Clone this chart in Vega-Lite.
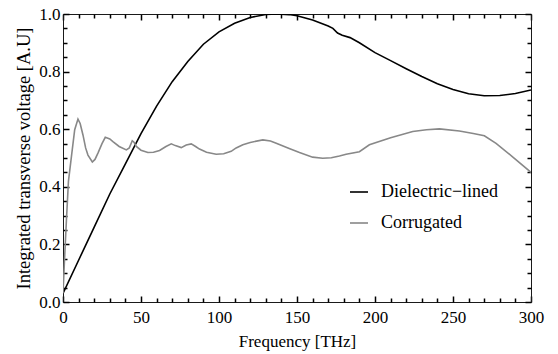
{
  "$schema": "https://vega.github.io/schema/vega-lite/v6.json",
  "autosize": {"type": "none"},
  "width": 468,
  "height": 288,
  "padding": {"left": 63, "top": 14, "right": 27, "bottom": 52},
  "background": "white",
  "config": {
    "view": {"stroke": null},
    "font": "Liberation Serif",
    "axis": {
      "labelFont": "Liberation Serif",
      "titleFont": "Liberation Serif",
      "labelFontSize": 17,
      "titleFontSize": 17,
      "titleFontWeight": "normal",
      "labelColor": "#000",
      "titleColor": "#000",
      "domainColor": "#1a1a1a",
      "tickColor": "#000",
      "grid": false
    },
    "legend": {
      "labelFont": "Liberation Serif",
      "labelFontSize": 18,
      "labelColor": "#000"
    }
  },
  "data": {
    "values": [
      {"series": "Dielectric−lined", "f": 0, "v": 0.03},
      {"series": "Dielectric−lined", "f": 10, "v": 0.145},
      {"series": "Dielectric−lined", "f": 20, "v": 0.26},
      {"series": "Dielectric−lined", "f": 30, "v": 0.375},
      {"series": "Dielectric−lined", "f": 40, "v": 0.48},
      {"series": "Dielectric−lined", "f": 50, "v": 0.585},
      {"series": "Dielectric−lined", "f": 60, "v": 0.68},
      {"series": "Dielectric−lined", "f": 70, "v": 0.765},
      {"series": "Dielectric−lined", "f": 80, "v": 0.835},
      {"series": "Dielectric−lined", "f": 90, "v": 0.895},
      {"series": "Dielectric−lined", "f": 100, "v": 0.938},
      {"series": "Dielectric−lined", "f": 110, "v": 0.968},
      {"series": "Dielectric−lined", "f": 120, "v": 0.988},
      {"series": "Dielectric−lined", "f": 130, "v": 0.998},
      {"series": "Dielectric−lined", "f": 137, "v": 1.0},
      {"series": "Dielectric−lined", "f": 145, "v": 0.998},
      {"series": "Dielectric−lined", "f": 150, "v": 0.994},
      {"series": "Dielectric−lined", "f": 160, "v": 0.979},
      {"series": "Dielectric−lined", "f": 170, "v": 0.958},
      {"series": "Dielectric−lined", "f": 173, "v": 0.95},
      {"series": "Dielectric−lined", "f": 176, "v": 0.934},
      {"series": "Dielectric−lined", "f": 179, "v": 0.926},
      {"series": "Dielectric−lined", "f": 184, "v": 0.918},
      {"series": "Dielectric−lined", "f": 190, "v": 0.9},
      {"series": "Dielectric−lined", "f": 200, "v": 0.866},
      {"series": "Dielectric−lined", "f": 210, "v": 0.838},
      {"series": "Dielectric−lined", "f": 220, "v": 0.81},
      {"series": "Dielectric−lined", "f": 230, "v": 0.783},
      {"series": "Dielectric−lined", "f": 240, "v": 0.758},
      {"series": "Dielectric−lined", "f": 250, "v": 0.738},
      {"series": "Dielectric−lined", "f": 260, "v": 0.723},
      {"series": "Dielectric−lined", "f": 270, "v": 0.716},
      {"series": "Dielectric−lined", "f": 280, "v": 0.717},
      {"series": "Dielectric−lined", "f": 290, "v": 0.724},
      {"series": "Dielectric−lined", "f": 300, "v": 0.736},
      {"series": "Corrugated", "f": 0, "v": 0.03},
      {"series": "Corrugated", "f": 1, "v": 0.15},
      {"series": "Corrugated", "f": 2.2, "v": 0.285},
      {"series": "Corrugated", "f": 3.5, "v": 0.42},
      {"series": "Corrugated", "f": 5.4, "v": 0.505},
      {"series": "Corrugated", "f": 7.5, "v": 0.598},
      {"series": "Corrugated", "f": 9.6, "v": 0.635},
      {"series": "Corrugated", "f": 11, "v": 0.62},
      {"series": "Corrugated", "f": 12.8, "v": 0.58},
      {"series": "Corrugated", "f": 14.5, "v": 0.535},
      {"series": "Corrugated", "f": 16, "v": 0.51},
      {"series": "Corrugated", "f": 18.8, "v": 0.486},
      {"series": "Corrugated", "f": 20.5, "v": 0.495},
      {"series": "Corrugated", "f": 22.4, "v": 0.517},
      {"series": "Corrugated", "f": 25, "v": 0.55},
      {"series": "Corrugated", "f": 27.1, "v": 0.572},
      {"series": "Corrugated", "f": 30, "v": 0.566},
      {"series": "Corrugated", "f": 32, "v": 0.557},
      {"series": "Corrugated", "f": 36, "v": 0.54},
      {"series": "Corrugated", "f": 40.6, "v": 0.528},
      {"series": "Corrugated", "f": 42.5, "v": 0.535},
      {"series": "Corrugated", "f": 44.4, "v": 0.56},
      {"series": "Corrugated", "f": 45.5, "v": 0.555},
      {"series": "Corrugated", "f": 47, "v": 0.54},
      {"series": "Corrugated", "f": 50, "v": 0.527},
      {"series": "Corrugated", "f": 54.4, "v": 0.519},
      {"series": "Corrugated", "f": 58, "v": 0.52},
      {"series": "Corrugated", "f": 61.9, "v": 0.526},
      {"series": "Corrugated", "f": 66, "v": 0.54},
      {"series": "Corrugated", "f": 69.4, "v": 0.549},
      {"series": "Corrugated", "f": 72, "v": 0.543},
      {"series": "Corrugated", "f": 75.8, "v": 0.536},
      {"series": "Corrugated", "f": 79, "v": 0.545},
      {"series": "Corrugated", "f": 82.2, "v": 0.549},
      {"series": "Corrugated", "f": 85, "v": 0.54},
      {"series": "Corrugated", "f": 87.5, "v": 0.531},
      {"series": "Corrugated", "f": 92, "v": 0.52},
      {"series": "Corrugated", "f": 98.2, "v": 0.513},
      {"series": "Corrugated", "f": 103, "v": 0.515},
      {"series": "Corrugated", "f": 107.8, "v": 0.523},
      {"series": "Corrugated", "f": 111, "v": 0.535},
      {"series": "Corrugated", "f": 115.3, "v": 0.546},
      {"series": "Corrugated", "f": 120, "v": 0.554},
      {"series": "Corrugated", "f": 128.1, "v": 0.563},
      {"series": "Corrugated", "f": 133, "v": 0.559},
      {"series": "Corrugated", "f": 136.7, "v": 0.551},
      {"series": "Corrugated", "f": 145, "v": 0.533},
      {"series": "Corrugated", "f": 151.6, "v": 0.519},
      {"series": "Corrugated", "f": 160, "v": 0.503},
      {"series": "Corrugated", "f": 166.5, "v": 0.499},
      {"series": "Corrugated", "f": 172, "v": 0.501},
      {"series": "Corrugated", "f": 177.2, "v": 0.507},
      {"series": "Corrugated", "f": 181.5, "v": 0.513},
      {"series": "Corrugated", "f": 190, "v": 0.522},
      {"series": "Corrugated", "f": 196.4, "v": 0.546},
      {"series": "Corrugated", "f": 210, "v": 0.57},
      {"series": "Corrugated", "f": 224.2, "v": 0.592},
      {"series": "Corrugated", "f": 233, "v": 0.598},
      {"series": "Corrugated", "f": 241.3, "v": 0.601},
      {"series": "Corrugated", "f": 254.1, "v": 0.594},
      {"series": "Corrugated", "f": 263, "v": 0.585},
      {"series": "Corrugated", "f": 270.1, "v": 0.577},
      {"series": "Corrugated", "f": 277.6, "v": 0.551},
      {"series": "Corrugated", "f": 288, "v": 0.505},
      {"series": "Corrugated", "f": 300, "v": 0.45}
    ]
  },
  "resolve": {"axis": {"x": "independent", "y": "independent"}},
  "layer": [
    {
      "mark": {"type": "line", "strokeWidth": 1.6, "clip": true},
      "encoding": {
        "x": {
          "field": "f", "type": "quantitative",
          "scale": {"domain": [0, 300], "nice": false, "zero": false},
          "axis": {
            "orient": "bottom", "title": "Frequency [THz]",
            "values": [0, 50, 100, 150, 200, 250, 300],
            "ticks": false, "labelPadding": 7, "titlePadding": 8,
            "labelFlush": false, "labelOverlap": false
          }
        },
        "y": {
          "field": "v", "type": "quantitative",
          "scale": {"domain": [0, 1], "nice": false, "zero": false},
          "axis": {
            "orient": "left", "title": "Integrated transverse voltage [A.U]",
            "titleFontSize": 18.5,
            "values": [0, 0.2, 0.4, 0.6, 0.8, 1.0], "format": ".1f",
            "ticks": false, "labelPadding": 3, "titlePadding": 5,
            "labelFlush": false, "labelOverlap": false
          }
        },
        "color": {
          "field": "series", "type": "nominal",
          "scale": {"domain": ["Dielectric−lined", "Corrugated"], "range": ["#000000", "#888888"]},
          "legend": {
            "title": null, "orient": "none", "legendX": 286, "legendY": 168,
            "symbolType": "stroke", "symbolSize": 324, "symbolStrokeWidth": 1.6,
            "labelOffset": 12, "rowPadding": 12, "padding": 0
          }
        },
        "order": {"field": "f", "type": "quantitative"}
      }
    },
    {
      "mark": {"type": "line", "strokeOpacity": 0},
      "encoding": {
        "x": {"field": "f", "type": "quantitative",
          "axis": {"orient": "top", "title": null, "labels": false,
            "values": [0, 50, 100, 150, 200, 250, 300], "tickSize": -6, "tickColor": "#000", "tickWidth": 1.5}},
        "y": {"field": "v", "type": "quantitative",
          "axis": {"orient": "right", "title": null, "labels": false,
            "values": [0, 0.2, 0.4, 0.6, 0.8, 1.0], "tickSize": -6, "tickColor": "#000", "tickWidth": 1.5}},
        "detail": {"field": "series"}
      }
    },
    {
      "mark": {"type": "line", "strokeOpacity": 0},
      "encoding": {
        "x": {"field": "f", "type": "quantitative",
          "axis": {"orient": "bottom", "title": null, "labels": false, "domain": false,
            "values": [0, 50, 100, 150, 200, 250, 300], "tickSize": 6, "offset": -6, "tickColor": "#000", "tickWidth": 1.5}},
        "y": {"field": "v", "type": "quantitative",
          "axis": {"orient": "left", "title": null, "labels": false, "domain": false,
            "values": [0, 0.2, 0.4, 0.6, 0.8, 1.0], "tickSize": 6, "offset": -6, "tickColor": "#000", "tickWidth": 1.5}},
        "detail": {"field": "series"}
      }
    },
    {
      "mark": {"type": "line", "strokeOpacity": 0},
      "encoding": {
        "x": {"field": "f", "type": "quantitative",
          "axis": {"orient": "bottom", "title": null, "labels": false, "domain": false,
            "values": [10, 20, 30, 40, 60, 70, 80, 90, 110, 120, 130, 140, 160, 170, 180, 190, 210, 220, 230, 240, 260, 270, 280, 290],
            "tickSize": 4, "offset": -4, "tickColor": "#000", "tickWidth": 1.5}},
        "y": {"field": "v", "type": "quantitative",
          "axis": {"orient": "left", "title": null, "labels": false, "domain": false,
            "values": [0.05, 0.1, 0.15, 0.25, 0.3, 0.35, 0.45, 0.5, 0.55, 0.65, 0.7, 0.75, 0.85, 0.9, 0.95],
            "tickSize": 4, "offset": -4, "tickColor": "#000", "tickWidth": 1.5}},
        "detail": {"field": "series"}
      }
    },
    {
      "mark": {"type": "line", "strokeOpacity": 0},
      "encoding": {
        "x": {"field": "f", "type": "quantitative",
          "axis": {"orient": "top", "title": null, "labels": false, "domain": false,
            "values": [10, 20, 30, 40, 60, 70, 80, 90, 110, 120, 130, 140, 160, 170, 180, 190, 210, 220, 230, 240, 260, 270, 280, 290],
            "tickSize": -4, "tickColor": "#000", "tickWidth": 1.5}},
        "y": {"field": "v", "type": "quantitative",
          "axis": {"orient": "right", "title": null, "labels": false, "domain": false,
            "values": [0.05, 0.1, 0.15, 0.25, 0.3, 0.35, 0.45, 0.5, 0.55, 0.65, 0.7, 0.75, 0.85, 0.9, 0.95],
            "tickSize": -4, "tickColor": "#000", "tickWidth": 1.5}},
        "detail": {"field": "series"}
      }
    }
  ]
}
